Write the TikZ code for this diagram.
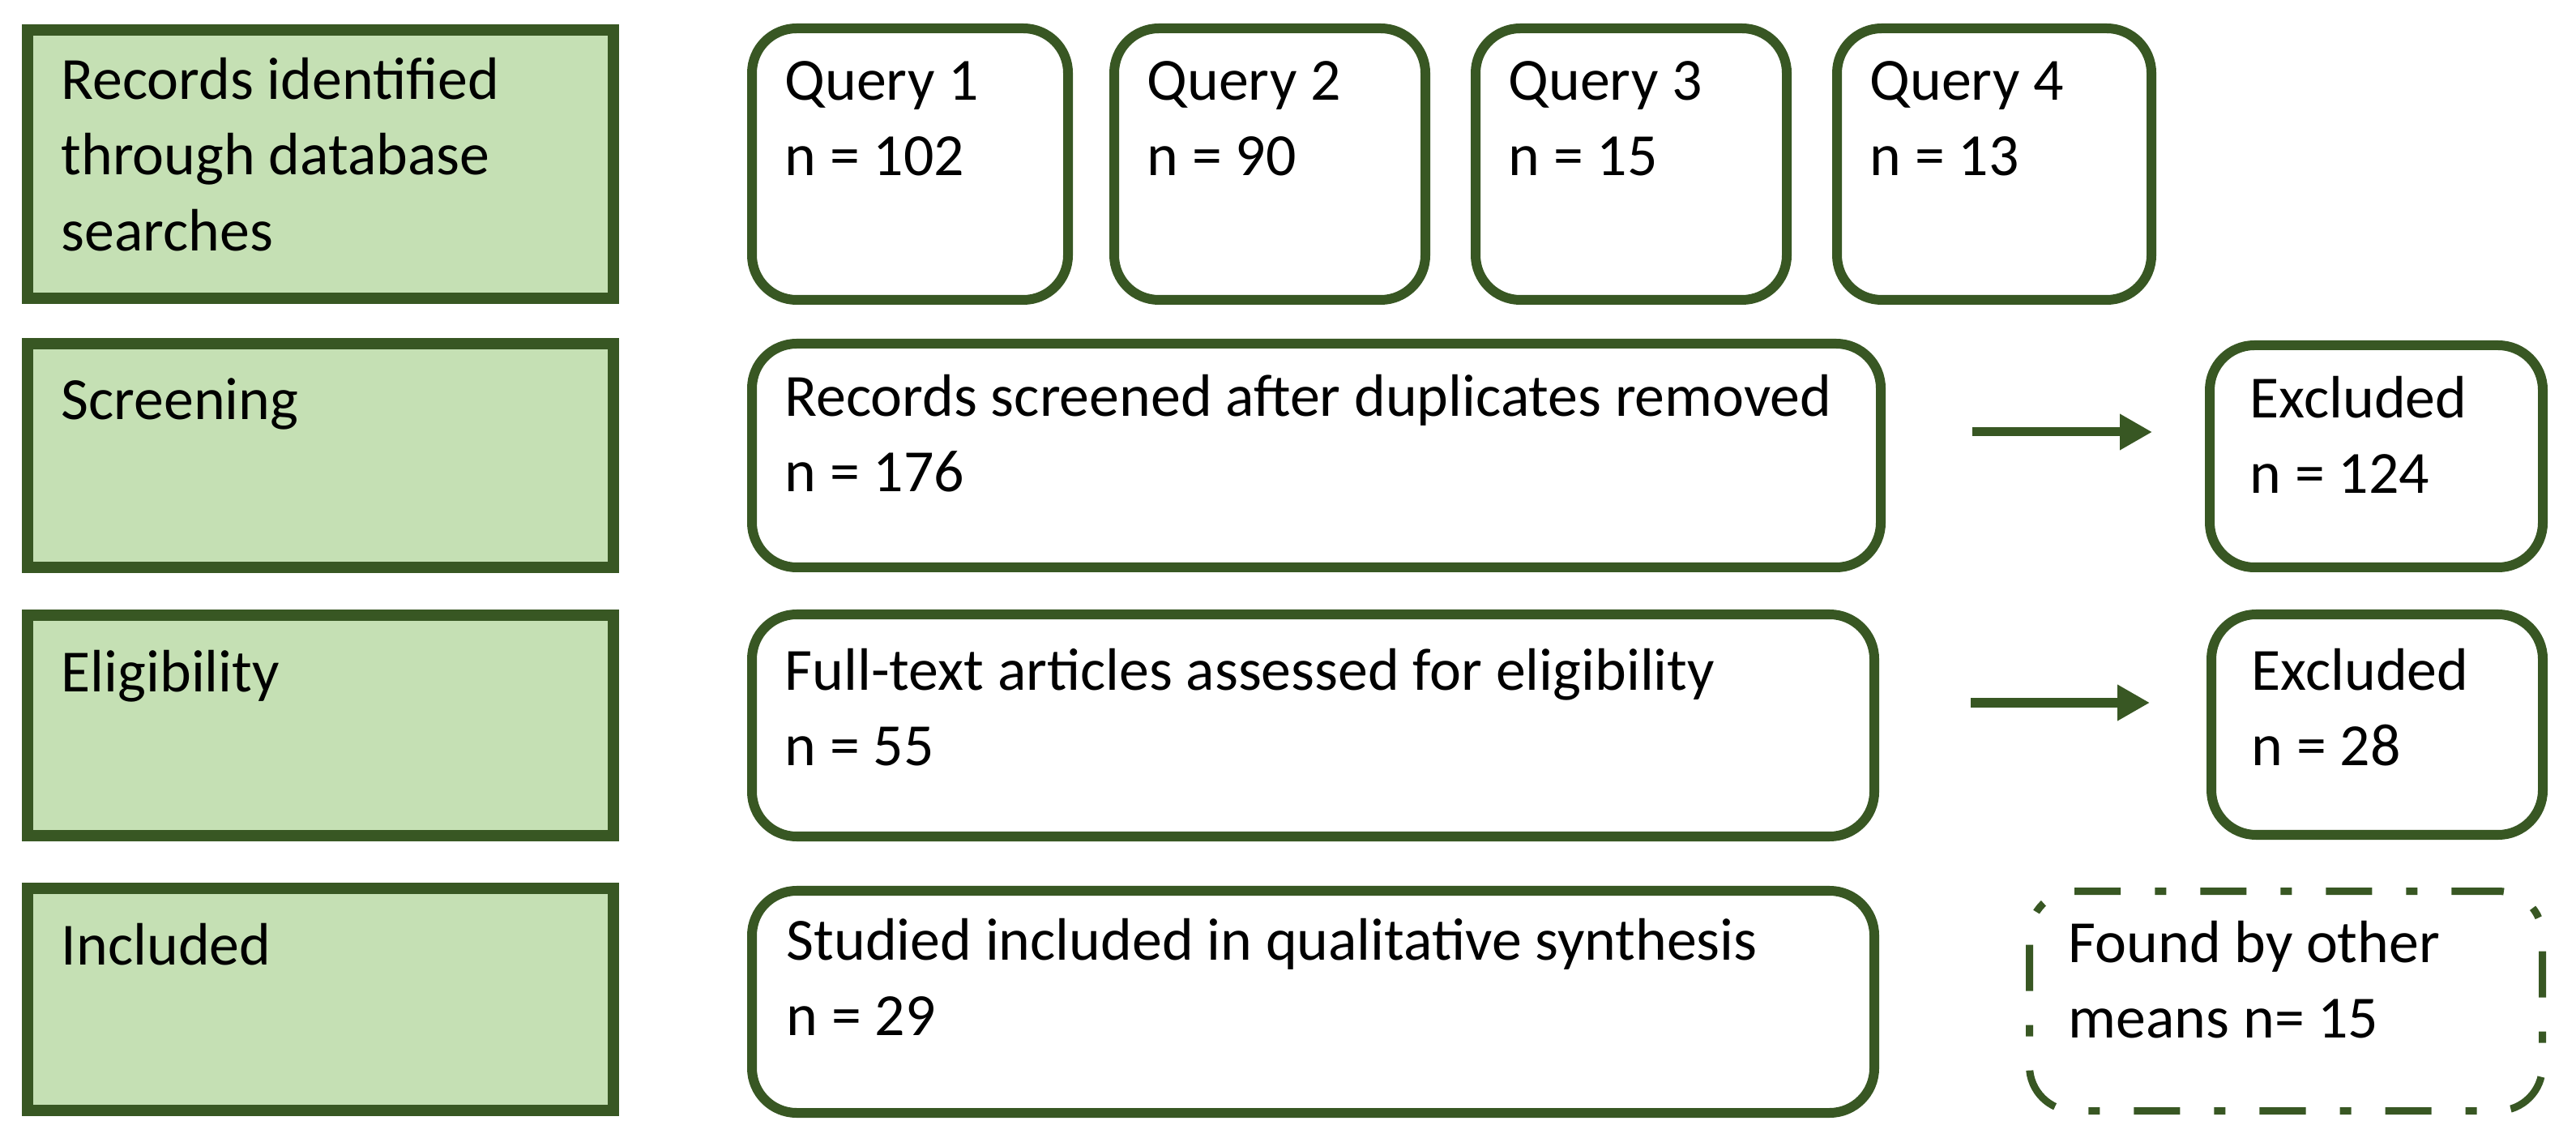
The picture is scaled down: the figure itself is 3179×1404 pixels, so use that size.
\documentclass[tikz,border=0pt]{standalone}
\usepackage{fontspec}
\setmainfont{Carlito}
\usetikzlibrary{arrows.meta}
\definecolor{dkgreen}{RGB}{56,87,35}
\definecolor{ltgreen}{RGB}{197,224,180}
\newcommand\flowbox[7]{%
  \node[#2, minimum width={(#5-#3-#7)*0.01cm}, minimum height={(#6-#4-#7)*0.01cm}]
    (#1) at ({(#3+#5)/2},{(#4+#6)/2}) {};}
\newcommand\firstline{\rule{0pt}{0.6cm}}
\begin{document}
\begin{tikzpicture}[x=0.01cm,y=-0.01cm,
  stagebox/.style={draw=dkgreen, line width=0.14cm, fill=ltgreen, inner sep=0pt},
  roundbox/.style={draw=dkgreen, line width=0.12cm, rounded corners=0.55cm, fill=white, inner sep=0pt},
  dashbox/.style={draw=dkgreen, line width=0.09cm, rounded corners=0.55cm,
    dash pattern=on 0.57cm off 0.42cm on 0.14cm off 0.42cm, inner sep=0pt},
  txt/.style={font=\fontsize{21}{26.5}\selectfont, align=left, inner sep=0pt, anchor=north west, text=black},
  arr/.style={draw=dkgreen, line width=0.11cm, -{Triangle[length=0.4cm,width=0.42cm]}}]
\useasboundingbox (0,0) rectangle (3179,1404);
% stage boxes
\flowbox{g1}{stagebox}{27}{30}{764}{375}{14}
\flowbox{g2}{stagebox}{27}{417}{764}{707}{14}
\flowbox{g3}{stagebox}{27}{752}{764}{1038}{14}
\flowbox{g4}{stagebox}{27}{1089}{764}{1377}{14}
\node[txt] (tg1) at (75,62) {\firstline Records identified\\through database\\searches};
\node[txt] (tg2) at (75,457) {\firstline Screening};
\node[txt] (tg3) at (75,793) {\firstline Eligibility};
\node[txt] (tg4) at (75,1130) {\firstline Included};
% query boxes
\flowbox{q1}{roundbox}{922}{29}{1324}{376}{12}
\flowbox{q2}{roundbox}{1369}{29}{1765}{376}{12}
\flowbox{q3}{roundbox}{1815}{29}{2211}{376}{12}
\flowbox{q4}{roundbox}{2261}{29}{2661}{376}{12}
\node[txt] (tq1) at (968,63) {\firstline Query 1\\n = 102};
\node[txt] (tq2) at (1415,63) {\firstline Query 2\\n = 90};
\node[txt] (tq3) at (1861,63) {\firstline Query 3\\n = 15};
\node[txt] (tq4) at (2307,63) {\firstline Query 4\\n = 13};
% process boxes
\flowbox{s1}{roundbox}{922}{418}{2327}{706}{12}
\flowbox{e1}{roundbox}{2721}{420}{3144}{706}{12}
\flowbox{f1}{roundbox}{922}{752}{2319}{1038}{12}
\flowbox{e2}{roundbox}{2723}{752}{3144}{1036}{12}
\flowbox{i1}{roundbox}{922}{1093}{2319}{1379}{12}
\flowbox{d1}{dashbox}{2500}{1095}{3142}{1375}{9}
\node[txt] (ts1) at (968,453) {\firstline Records screened after duplicates removed\\n = 176};
\node[txt] (te1) at (2776,455) {\firstline Excluded\\n = 124};
\node[txt] (tf1) at (968,791) {\firstline Full-text articles assessed for eligibility\\n = 55};
\node[txt] (te2) at (2778,791) {\firstline Excluded\\n = 28};
\node[txt] (ti1) at (970,1124) {\firstline Studied included in qualitative synthesis\\n = 29};
\node[txt] (td1) at (2552,1127) {\firstline Found by other\\means n= 15};
% arrows
\coordinate (a1s) at (2434,533);
\coordinate (a1e) at (2656,533);
\coordinate (a2s) at (2432,867);
\coordinate (a2e) at (2653,867);
\draw[arr] (a1s) -- (a1e);
\draw[arr] (a2s) -- (a2e);
\end{tikzpicture}
\end{document}
